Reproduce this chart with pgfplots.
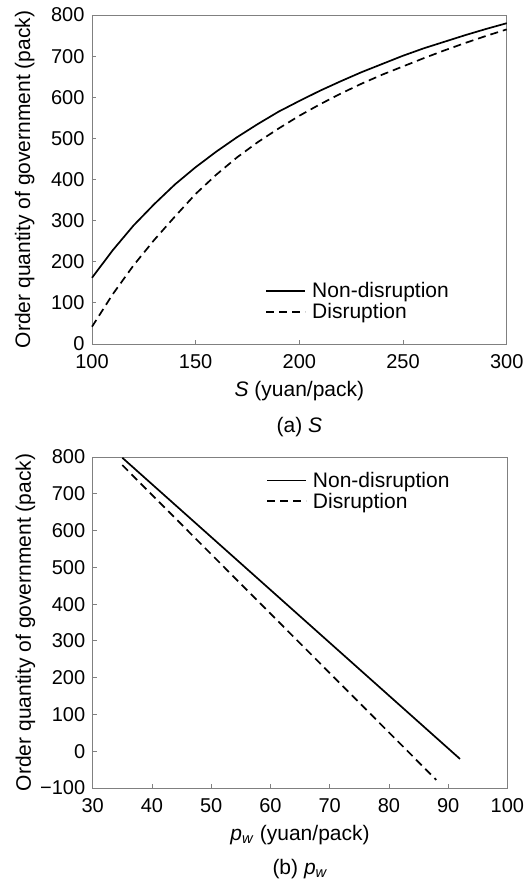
\documentclass[border=0pt]{standalone}
\usepackage{fontspec}
\setmainfont{Liberation Sans}
\usepackage{pgfplots}
\pgfplotsset{compat=1.18}

\pgfplotsset{
  govaxis/.style={
    scale only axis,
    width=414.7pt,
    clip=false,
    axis line style={draw=gray, line width=0.8pt},
    tick style={draw=gray, line width=0.8pt},
    tick align=inside,
    tick pos=left,
    major tick length=4pt,
    font=\fontsize{21}{25}\selectfont,
    /pgf/number format/assume math mode=true,
    ticklabel style={font=\fontsize{20}{24}\selectfont},
    xticklabel style={yshift=-7pt},
    yticklabel style={xshift=-4pt},
    ylabel={Order quantity of government (pack)},
    ylabel style={at={(axis description cs:-0.162,0.5)}, anchor=center},
    xlabel style={at={(axis description cs:0.5,0)}, anchor=north, yshift=-34pt},
    legend cell align=left,
    legend image code/.code={\draw[#1] (0pt,0pt) -- (39pt,0pt);},
    legend style={draw=none, fill=none, font=\fontsize{21}{25}\selectfont,
      row sep=2pt, column sep=4pt, inner sep=0pt,
      nodes={inner xsep=2pt, inner ysep=1pt},
      anchor=north west},
  },
  solid line/.style={black, line width=1.7pt},
  dashed line/.style={black, line width=1.7pt, dash pattern=on 8pt off 5pt},
}

\begin{document}
\begin{tikzpicture}
% (a) S
\begin{axis}[govaxis,
  at={(0pt,0pt)}, anchor=north west,
  height=329pt,
  xmin=100, xmax=300, ymin=0, ymax=800,
  xtick={100,150,...,300},
  ytick={0,100,...,800},
  xlabel={\textit{S} (yuan/pack)},
  legend style={at={(axis description cs:0.418,0.19)}},
]
\addplot[solid line] coordinates {
  (100,161) (110,228) (120,288) (130,340) (140,388) (150,430)
  (160,468) (170,503) (180,535) (190,565) (200,591) (210,616)
  (220,639) (230,661) (240,681) (250,701) (260,719) (270,735)
  (280,751) (290,766) (300,780)
};
\addlegendentry{Non-disruption}
\addplot[dashed line] coordinates {
  (100,42) (110,121) (120,191) (130,253) (140,310) (150,365)
  (160,412) (170,454) (180,491) (190,524) (200,555) (210,583)
  (220,609) (230,633) (240,655) (250,675) (260,695) (270,714)
  (280,732) (290,749) (300,765)
};
\addlegendentry{Disruption}
\node at (rel axis cs:0.5,0) [yshift=-83pt] {(a) \textit{S}};
\end{axis}

% (b) p_w
\begin{axis}[govaxis,
  at={(0.7pt,-442pt)}, anchor=north west,
  height=331pt,
  xmin=30, xmax=100, ymin=-100, ymax=800,
  xtick={30,40,...,100},
  ytick={-100,0,100,...,800},
  yticklabels={−100,0,100,200,300,400,500,600,700,800},
  xlabel={\textit{p}\textsubscript{\textit{w}} (yuan/pack)},
  legend style={at={(axis description cs:0.418,0.958)}},
]
\addplot[solid line] coordinates {(35,798) (92,-21)};
\addlegendentry{Non-disruption}
\addplot[dashed line] coordinates {(35,778) (88,-78)};
\addlegendentry{Disruption}
\node at (rel axis cs:0.5,0) [yshift=-81pt] {(b) \textit{p}\textsubscript{\textit{w}}};
\end{axis}

\path (-92pt,-871pt) rectangle (437pt,15pt);
\end{tikzpicture}
\end{document}
